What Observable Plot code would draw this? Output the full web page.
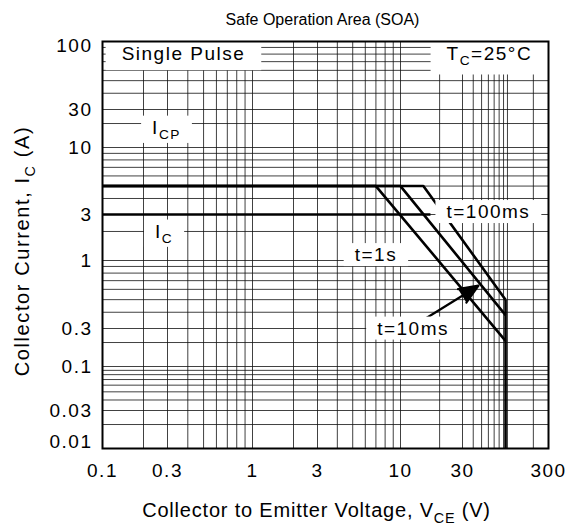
<!DOCTYPE html>
<html>
<head>
<meta charset="utf-8">
<script src="https://cdn.jsdelivr.net/npm/d3@7"></script>
<script src="https://cdn.jsdelivr.net/npm/@observablehq/plot@0.6"></script>
<style>
  html, body { margin: 0; padding: 0; background: #fff; }
  #chart svg text { letter-spacing: 1.5px; }
</style>
</head>
<body>
<div id="chart"></div>
<script>
// ================= DATA =================
// Axis tick labels
const xTickValues = [0.1, 0.3, 1, 3, 10, 30, 300];
const yTickValues = [0.01, 0.03, 0.1, 0.3, 1, 3, 10, 30, 100];

// SOA boundary curves: V_CE (V) and I_C (A)
const curveIC_V = [0.1, 17];
const curveIC_I = [3, 3];
const curve1s_V = [0.1, 7, 95];
const curve1s_I = [5, 5, 0.21];
const curve10ms_V = [0.1, 10, 95];
const curve10ms_I = [5, 5, 0.38];
const curve100ms_V = [0.1, 15, 95];
const curve100ms_I = [5, 5, 0.5];
const vceo_V = [95, 95];
const vceo_I = [0.5, 0.01];

// Annotation labels (anchored in data space)
const labelTexts = ["Single Pulse", "T_{C}=25°C", "I_{CP}", "I_{C}", "t=1s", "t=100ms", "t=10ms"];
const labelV = [0.376, 61.6, 0.295, 0.283, 7.0, 60, 12.5];
const labelI = [80, 80, 17.8, 2.0, 1.14, 3.14, 0.3];

// Arrow from "t=10ms" label to its curve
const arrowV = [15.6, 46];
const arrowI = [0.358, 0.64];

const titleText = "Safe Operation Area (SOA)";
const xLabelText = "Collector to Emitter Voltage, V_{CE} (V)";
const yLabelText = "Collector Current, I_{C} (A)";

// ================= LAYOUT / STYLE =================
const FONT = '"Liberation Sans", Arial, Helvetica, sans-serif';
// pixel positions at which the reference places each tick value (its log axes are slightly uneven)
const xTickPx = [102, 167, 252, 317, 400, 462, 548];
const yTickPx = [448, 410, 366, 328, 260, 214, 147, 109, 41];
const headerLabels = new Set(["Single Pulse", "T_{C}=25°C"]);

// Log grid (1..9 of each decade)
const xGrid = [];
for (const d of [0.1, 1, 10, 100]) for (let k = 1; k <= 9; k++) {
  const v = +(d * k).toPrecision(3);
  if (v >= 0.1 && v <= 300) xGrid.push(v);
}
const yGrid = [];
for (const d of [0.01, 0.1, 1, 10, 100]) for (let k = 1; k <= 9; k++) {
  const v = +(d * k).toPrecision(3);
  if (v >= 0.01 && v <= 100) yGrid.push(v);
}

const curves = [
  {name: "IC", V: curveIC_V, I: curveIC_I},
  {name: "1s", V: curve1s_V, I: curve1s_I},
  {name: "10ms", V: curve10ms_V, I: curve10ms_I},
  {name: "100ms", V: curve100ms_V, I: curve100ms_I},
  {name: "VCEO", V: vceo_V, I: vceo_I}
];
const curveRows = curves.flatMap(c => c.V.map((v, i) => ({name: c.name, V: v, I: c.I[i]})));
const labels = labelTexts.map((t, i) => ({label: t, V: labelV[i], I: labelI[i]}));
const arrows = [{V1: arrowV[0], I1: arrowI[0], V2: arrowV[1], I2: arrowI[1]}];

const plot = Plot.plot({
  width: 571,
  height: 527,
  marginLeft: 102,
  marginRight: 23,
  marginTop: 41,
  marginBottom: 79,
  style: {fontFamily: FONT, fontSize: "19px", background: "#fff", color: "#000"},
  x: {type: "log", domain: xTickValues, range: xTickPx, axis: null},
  y: {type: "log", domain: yTickValues, range: yTickPx, axis: null},
  marks: [
    Plot.ruleX(xGrid, {x: d => d, stroke: "#111", strokeWidth: 1, strokeOpacity: 0.8}),
    Plot.ruleY(yGrid, {y: d => d, stroke: "#111", strokeWidth: 1, strokeOpacity: 0.8}),
    Plot.line(curveRows, {x: "V", y: "I", z: "name", stroke: "#000", strokeWidth: 2.6, strokeLinejoin: "miter", strokeLinecap: "butt"}),
    Plot.arrow(arrows, {x1: "V1", y1: "I1", x2: "V2", y2: "I2", stroke: "#000", fill: "#000",
      strokeWidth: 2.2, headLength: 15, headAngle: 45}),
    Plot.text(labels, {x: "V", y: "I", text: "label", fontSize: 19, textAnchor: "middle", lineAnchor: "middle", fill: "#000"}),
    Plot.frame({stroke: "#000", strokeWidth: 2}),
    // tick labels
    Plot.text(yTickValues, {y: d => d, text: d => String(d), frameAnchor: "left", textAnchor: "end", lineAnchor: "middle", dx: -10, fontSize: 19, fill: "#000"}),
    Plot.text(xTickValues, {x: d => d, text: d => String(d), frameAnchor: "bottom", textAnchor: "middle", lineAnchor: "top", dy: 15, fontSize: 19, fill: "#000"}),
    // titles
    Plot.text([titleText], {text: d => d, frameAnchor: "top", textAnchor: "middle", lineAnchor: "middle", dy: -22, dx: -3, fontSize: 16, fill: "#000"}),
    Plot.text([xLabelText], {text: d => d, frameAnchor: "bottom", textAnchor: "middle", lineAnchor: "middle", dy: 62, dx: -9, fontSize: 20, fill: "#000"}),
    Plot.text([yLabelText], {text: d => d, frameAnchor: "left", textAnchor: "middle", lineAnchor: "middle", dx: -80, dy: 6, rotate: -90, fontSize: 20, fill: "#000"})
  ]
});

document.getElementById("chart").append(plot);
const svg = plot.tagName.toLowerCase() === "svg" ? plot : plot.querySelector("svg");

// arrow head filled
d3.select(svg).selectAll('g[aria-label="arrow"] path').attr("fill", "#000");

// collect annotation text elements before subscript processing
const allTexts = Array.from(svg.querySelectorAll("text"));
const annot = allTexts.filter(t => labelTexts.includes(t.textContent)).map(t => ({el: t, raw: t.textContent}));

// letter spacing per text role
allTexts.filter(t => t.textContent === titleText).forEach(t => t.style.letterSpacing = "0px");
allTexts.filter(t => t.textContent === xLabelText).forEach(t => t.style.letterSpacing = "0.8px");
allTexts.filter(t => t.textContent === yLabelText).forEach(t => t.style.letterSpacing = "1.6px");

// subscripts
allTexts.forEach(function (el) {
  const s = el.textContent;
  if (!s.includes("_{")) return;
  const fs = parseFloat(getComputedStyle(el).fontSize) || 19;
  const parts = s.split(/(_\{[^}]*\})/);
  while (el.firstChild) el.removeChild(el.firstChild);
  let sub = false;
  const shift = 0.28 * fs;
  for (const p of parts) {
    if (!p) continue;
    const ts = document.createElementNS("http://www.w3.org/2000/svg", "tspan");
    if (p.startsWith("_{")) {
      ts.textContent = p.slice(2, -1);
      ts.setAttribute("font-size", (0.72 * fs).toFixed(1));
      ts.setAttribute("dy", shift.toFixed(1));
      sub = true;
    } else {
      ts.textContent = p;
      if (sub) { ts.setAttribute("dy", (-shift).toFixed(1)); sub = false; }
    }
    el.appendChild(ts);
  }
});

// white boxes behind annotation labels
for (const {el, raw} of annot) {
  const b = el.getBBox();
  const header = headerLabels.has(raw);
  const px = header ? 16 : 11, pt = header ? 6 : 1, pb = header ? 6 : 1;
  const r = document.createElementNS("http://www.w3.org/2000/svg", "rect");
  r.setAttribute("x", b.x - px);
  r.setAttribute("y", b.y - pt);
  r.setAttribute("width", b.width + 2 * px);
  r.setAttribute("height", b.height + pt + pb);
  r.setAttribute("fill", "#fff");
  r.setAttribute("stroke", "none");
  const tr = el.getAttribute("transform");
  if (tr) r.setAttribute("transform", tr);
  el.parentNode.insertBefore(r, el);
}

// nudge edge tick labels inward like the reference
allTexts.forEach(el => {
  if (el.textContent === "100") el.setAttribute("transform", (el.getAttribute("transform") || "") + " translate(0,4)");
  if (el.textContent === "0.01") el.setAttribute("transform", (el.getAttribute("transform") || "") + " translate(0,-7)");
});
</script>
</body>
</html>
